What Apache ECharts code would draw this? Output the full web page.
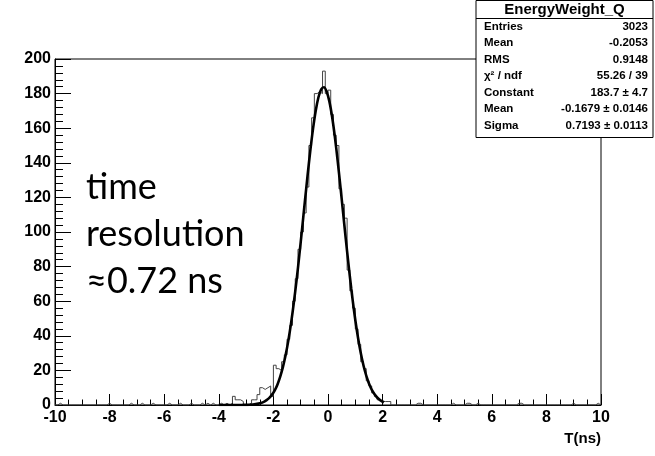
<!DOCTYPE html>
<html>
<head>
<meta charset="utf-8">
<script src="https://cdn.jsdelivr.net/npm/echarts@6/dist/echarts.min.js"></script>
<style>
html,body{margin:0;padding:0;background:#fff;}
#chart{width:655px;height:456px;}
</style>
</head>
<body>
<div id="chart"></div>
<script>
// Histogram: 200 bins of 0.1 ns from -10 to 10
var binLow = -10;
var binWidth = 0.1;
var counts = [
  0,1,0,0,0,0,0,0,0,0,
  0,0,0,0,0,0,0,0,0,1,
  0,0,0,0,0,0,0,1,0,0,
  0,1,0,0,0,1,0,0,0,0,
  0,1,0,0,0,1,0,0,0,1,
  0,0,0,1,0,1,0,1,0,0,
  1,0,1,0,1,5,3,3,2,0,
  0,1,3,3,6,10,9,10,11,5,
  23,21,20,25,29,38,46,60,73,90,
  100,111,126,150,166,180,181,180,193,180,
  182,168,156,150,125,116,108,78,66,56,
  44,35,25,21,14,11,7,5,3,2,
  2,2,2,0,0,0,0,0,0,0,
  0,0,1,1,0,0,0,0,0,0,
  0,0,0,0,0,1,0,0,0,0,
  1,1,0,0,1,0,0,0,0,0,
  0,0,0,0,0,0,0,0,0,1,
  1,0,0,0,0,0,0,0,0,0,
  0,0,0,0,0,0,0,0,0,1,
  0,0,0,0,0,0,0,0,1,0
];
// Gaussian fit curve
var fitX = [-4.0,-3.95,-3.85,-3.75,-3.65,-3.55,-3.45,-3.35,-3.25,-3.15,-3.05,-2.95,-2.85,-2.75,-2.65,-2.55,-2.45,-2.35,-2.25,-2.15,-2.05,
  -1.95,-1.85,-1.75,-1.65,-1.55,-1.45,-1.35,-1.25,-1.15,-1.05,-0.95,-0.85,-0.75,-0.65,-0.55,-0.45,-0.35,-0.25,-0.15,-0.05,
  0.05,0.15,0.25,0.35,0.45,0.55,0.65,0.75,0.85,0.95,1.05,1.15,1.25,1.35,1.45,1.55,1.65,1.75,1.85,1.95,2.05];
var fitY = [0,0,0,0,0,0,0,0,0,0,0.1,0.1,0.2,0.3,0.5,0.8,1.2,1.8,2.8,4.1,6.0,
  8.5,11.9,16.4,22.0,29.0,37.5,47.6,59.3,72.3,86.6,101.7,117.2,132.4,146.8,159.5,170.1,177.9,182.5,183.7,181.2,
  175.5,166.6,155.2,141.7,127.0,111.6,96.2,81.4,67.5,54.9,43.8,34.3,26.3,19.8,14.6,10.6,7.5,5.3,3.6,2.4,1.6];

var xTicks = {min: -10, max: 10, interval: 2};
var yTicks = {min: 0, max: 200, interval: 20};
var xTitle = 'T(ns)';
var statsTitle = 'EnergyWeight_Q';
var statsLabels = ['Entries', 'Mean', 'RMS', 'χ² / ndf', 'Constant', 'Mean', 'Sigma'];
var statsValues = ['3023', '-0.2053', '0.9148', '55.26 / 39', '183.7 ± 4.7', '-0.1679 ± 0.0146', '0.7193 ± 0.0113'];
var noteLines = ['time', 'resolution', '≈0.72 ns'];

var histData = [];
for (var i = 0; i < counts.length; i++) {
  histData.push([binLow + i * binWidth, counts[i]]);
}
histData.push([binLow + counts.length * binWidth, counts[counts.length - 1]]);

var fitData = fitX.map(function (x, k) { return [x, fitY[k]]; });

var rootFont = '"Liberation Sans", Arial, Helvetica, sans-serif';
var graphics = [];
// stats box
var bx = 476, by = 0, bw = 177, bh = 137;
graphics.push({type: 'rect', shape: {x: bx, y: by + 0.5, width: bw, height: bh}, style: {fill: '#fff', stroke: '#000', lineWidth: 1}, z: 100});
graphics.push({type: 'line', shape: {x1: bx, y1: by + 18.5, x2: bx + bw, y2: by + 18.5}, style: {stroke: '#000', lineWidth: 1}, z: 101});
graphics.push({type: 'text', x: bx + bw / 2, y: by + 9.5, style: {text: statsTitle, font: 'bold 15px ' + rootFont, fill: '#000', align: 'center', verticalAlign: 'middle'}, z: 101});
for (var r = 0; r < statsLabels.length; r++) {
  var ry = by + 26.5 + r * 16.5;
  graphics.push({type: 'text', x: bx + 8, y: ry, style: {text: statsLabels[r], font: 'bold 11.5px ' + rootFont, fill: '#000', align: 'left', verticalAlign: 'middle'}, z: 101});
  graphics.push({type: 'text', x: bx + bw - 5, y: ry, style: {text: statsValues[r], font: 'bold 11.5px ' + rootFont, fill: '#000', align: 'right', verticalAlign: 'middle'}, z: 101});
}
// annotation
for (var n = 0; n < noteLines.length; n++) {
  graphics.push({type: 'text', x: 86, y: 187 + n * 47, style: {text: noteLines[n], font: '36px Lato, "Open Sans", sans-serif', fill: '#000', align: 'left', verticalAlign: 'middle'}, z: 50});
}
// x axis title
graphics.push({type: 'text', x: 601, y: 439, style: {text: xTitle, font: 'bold 15px ' + rootFont, fill: '#000', align: 'right', verticalAlign: 'middle'}, z: 50});

var chart = echarts.init(document.getElementById('chart'), null, {renderer: 'canvas'});
chart.setOption({
  animation: false,
  backgroundColor: '#fff',
  grid: {left: 55, right: 54, top: 59, bottom: 51, show: true, borderColor: '#000', borderWidth: 1, backgroundColor: 'transparent'},
  xAxis: {
    type: 'value', min: xTicks.min, max: xTicks.max, interval: xTicks.interval,
    axisLine: {show: true, onZero: false, lineStyle: {color: '#000', width: 1}},
    axisTick: {show: true, inside: true, length: 11, lineStyle: {color: '#000'}},
    minorTick: {show: true, splitNumber: 4, length: 5.5, lineStyle: {color: '#000'}},
    splitLine: {show: false},
    axisLabel: {color: '#000', fontFamily: rootFont, fontWeight: 'bold', fontSize: 16, margin: 5}
  },
  yAxis: {
    type: 'value', min: yTicks.min, max: yTicks.max, interval: yTicks.interval,
    axisLine: {show: true, onZero: false, lineStyle: {color: '#000', width: 1}},
    axisTick: {show: true, inside: true, length: 16, lineStyle: {color: '#000'}},
    minorTick: {show: true, splitNumber: 5, length: 8, lineStyle: {color: '#000'}},
    splitLine: {show: false},
    axisLabel: {color: '#000', fontFamily: rootFont, fontWeight: 'bold', fontSize: 16, margin: 4}
  },
  series: [
    {type: 'line', data: histData, step: 'end', symbol: 'none', lineStyle: {color: '#444', width: 1}, z: 2, silent: true},
    {type: 'line', data: fitData, smooth: 0.3, symbol: 'none', lineStyle: {color: '#000', width: 2.6}, z: 3, silent: true}
  ],
  graphic: graphics
});
</script>
</body>
</html>
